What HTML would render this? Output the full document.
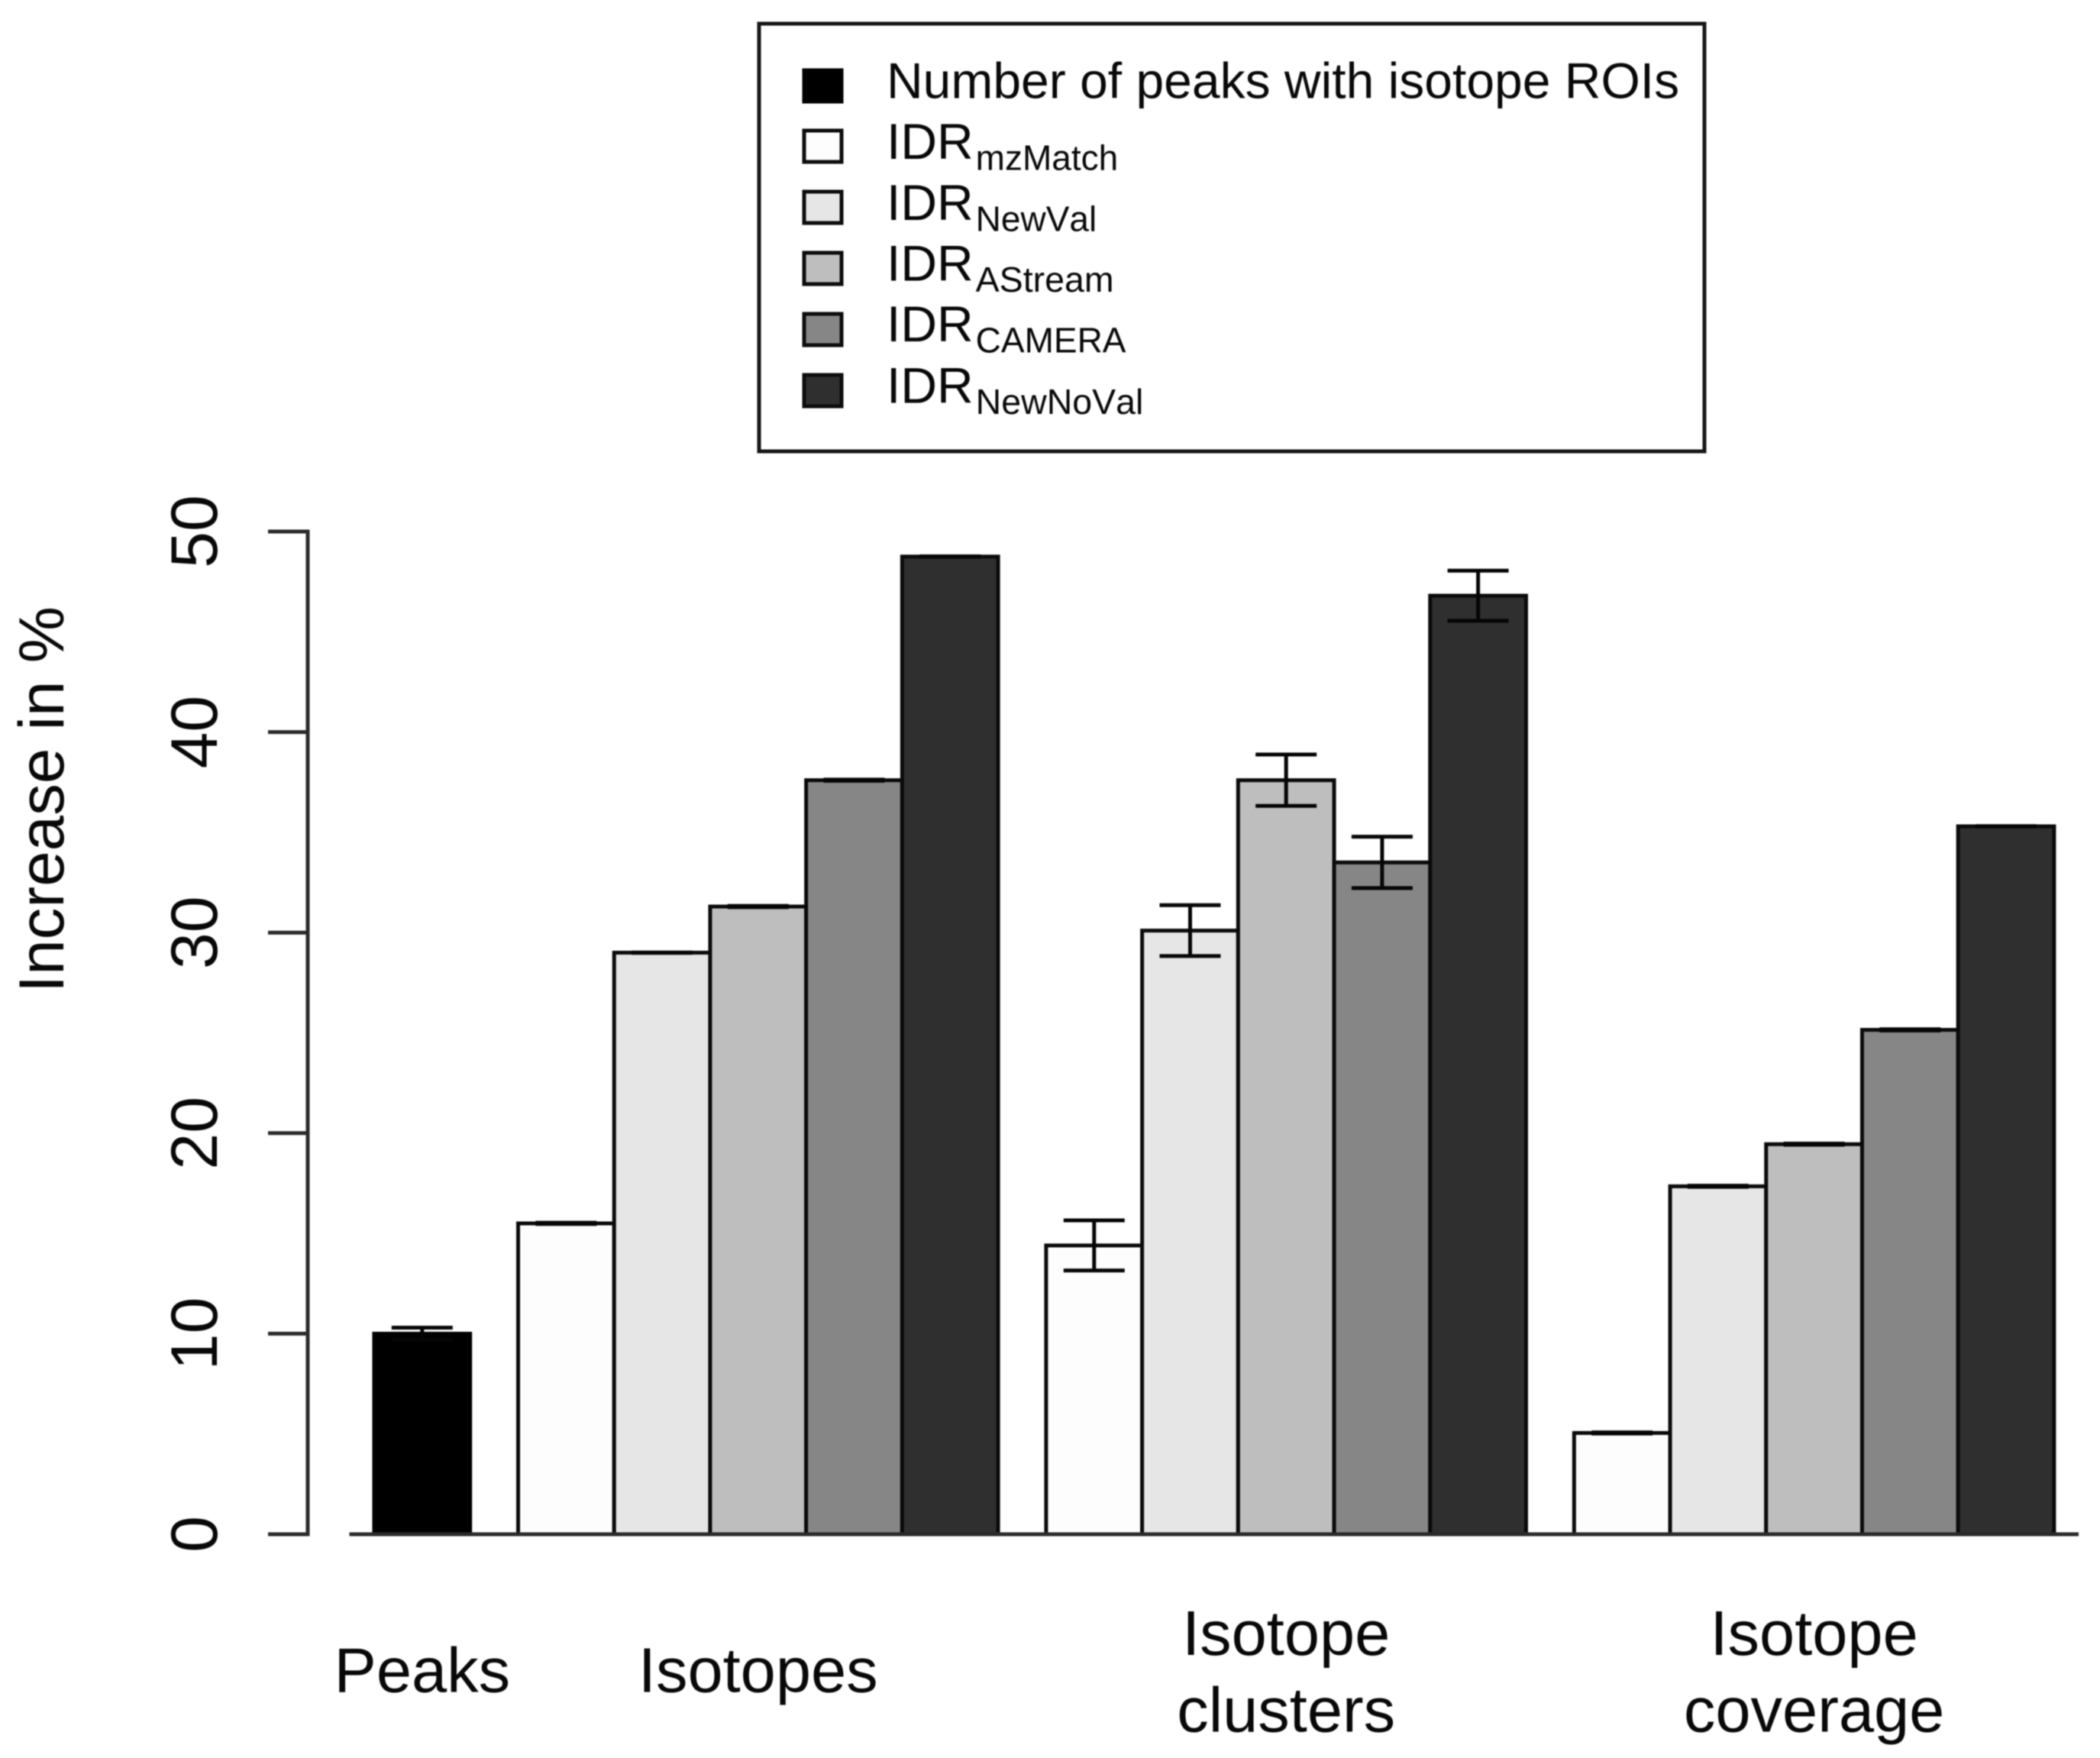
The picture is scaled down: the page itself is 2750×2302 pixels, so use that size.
<!DOCTYPE html>
<html lang="en">
<head>
<meta charset="utf-8">
<title>Increase in % by IDR method</title>
<style>
  html, body { margin: 0; padding: 0; background: #fff; }
  svg { display: block; filter: blur(0.7px); }
  text { font-family: "Liberation Sans", "DejaVu Sans", sans-serif; fill: #080808; font-kerning: none; }
</style>
</head>
<body>
<svg id="chart" xmlns="http://www.w3.org/2000/svg" width="2750" height="2302" viewBox="0 0 2750 2302">
  <rect x="0" y="0" width="2750" height="2302" fill="#ffffff"/>

  <g id="plot"></g>

  <text font-size="83.5" text-anchor="middle" transform="translate(83 1047) rotate(-90)">Increase in %</text>

  <g>
    <rect x="994" y="31" width="1238" height="560" fill="#ffffff" stroke="#161616" stroke-width="5"/>

    <g>
      <rect x="1053" y="92" width="49" height="41" fill="#000000" stroke="#000000" stroke-width="5"/>
      <text x="1161" y="128.5" font-size="66">Number of peaks with isotope ROIs</text>
    </g>
    <g>
      <rect x="1053" y="171" width="49" height="41" fill="#fdfdfd" stroke="#0c0c0c" stroke-width="5"/>
      <text x="1161" y="208" font-size="66">IDR<tspan font-size="46" dx="3" dy="14.5">mzMatch</tspan></text>
    </g>
    <g>
      <rect x="1053" y="251" width="49" height="41" fill="#e6e6e6" stroke="#0c0c0c" stroke-width="5"/>
      <text x="1161" y="288" font-size="66">IDR<tspan font-size="46" dx="3" dy="14.5">NewVal</tspan></text>
    </g>
    <g>
      <rect x="1053" y="331" width="49" height="41" fill="#bebebe" stroke="#0c0c0c" stroke-width="5"/>
      <text x="1161" y="367.5" font-size="66">IDR<tspan font-size="46.5" dx="3" dy="14.5">AStream</tspan></text>
    </g>
    <g>
      <rect x="1053" y="411" width="49" height="41" fill="#868686" stroke="#0c0c0c" stroke-width="5"/>
      <text x="1161" y="447" font-size="66">IDR<tspan font-size="46" dx="3" dy="14.5">CAMERA</tspan></text>
    </g>
    <g>
      <rect x="1053" y="491" width="49" height="41" fill="#2f2f2f" stroke="#0c0c0c" stroke-width="5"/>
      <text x="1161" y="527.5" font-size="66">IDR<tspan font-size="46.5" dx="3" dy="14.5">NewNoVal</tspan></text>
    </g>
  </g>
</svg>

<script>
// Chart data
const categories = [["Peaks"], ["Isotopes"], ["Isotope", "clusters"], ["Isotope", "coverage"]];
const seriesKeys = ["peaks", "mzmatch", "newval", "astream", "camera", "newnoval"];
const seriesFills = ["#000000", "#fdfdfd", "#e6e6e6", "#bebebe", "#868686", "#2f2f2f"];

const peaksValues    = [10.0, null, null, null];
const mzMatchValues  = [null, 15.5, 14.4, 5.05];
const newValValues   = [null, 29.0, 30.1, 17.35];
const aStreamValues  = [null, 31.3, 37.6, 19.45];
const cameraValues   = [null, 37.6, 33.5, 25.15];
const newNoValValues = [null, 48.75, 46.8, 35.3];

const peaksErrors    = [0.3, null, null, null];
const mzMatchErrors  = [null, 0.03, 1.25, 0.03];
const newValErrors   = [null, 0.01, 1.27, 0.03];
const aStreamErrors  = [null, 0.03, 1.28, 0.03];
const cameraErrors   = [null, 0.03, 1.28, 0.03];
const newNoValErrors = [null, 0.01, 1.25, 0.01];

const yTicks = [0, 10, 20, 30, 40, 50];

const seriesValues = [peaksValues, mzMatchValues, newValValues, aStreamValues, cameraValues, newNoValValues];
const seriesErrors = [peaksErrors, mzMatchErrors, newValErrors, aStreamErrors, cameraErrors, newNoValErrors];

// Axis functions
const SVG_NS = "http://www.w3.org/2000/svg";
const plot = document.getElementById("plot");

function yScale(v) { return 2009 - 26.26 * v; }
function xScale(u) { return 427.1 + 125.71 * u; }

function make(tag, attrs, parent) {
  const el = document.createElementNS(SVG_NS, tag);
  for (const k in attrs) el.setAttribute(k, attrs[k]);
  parent.appendChild(el);
  return el;
}

const AXIS_COLOR = "#2a2a2a";
const BAR_STROKE = "#0a0a0a";
const STROKE = 5;

// y axis
const yAxis = make("g", {}, plot);



const yLine = make("line", {
  x1: 403, x2: 403,
  y1: yScale(yTicks[0]), y2: yScale(yTicks[yTicks.length - 1]),
  stroke: AXIS_COLOR, "stroke-width": STROKE, "stroke-linecap": "square"
}, yAxis);



yTicks.forEach(function (t) {
  const tick = make("line", {
    x1: 351, x2: 403, y1: yScale(t), y2: yScale(t),
    stroke: AXIS_COLOR, "stroke-width": STROKE
  }, yAxis);
  
  

  const label = make("text", {
    "font-size": 86, "text-anchor": "middle",
    transform: "translate(284 " + yScale(t) + ") rotate(-90)"
  }, yAxis);
  label.textContent = String(t);
  
  
});

// Bars, grouped per category: a half-bar gap sits before every group
const barsGroup = make("g", {}, plot);



const errorGroup = make("g", {}, plot);



let cursor = 0;
const groupCenters = [];
categories.forEach(function (cat, ci) {
  cursor += 0.5;
  const groupStart = cursor;
  seriesKeys.forEach(function (key, si) {
    const v = seriesValues[si][ci];
    if (v === null) return;
    const u0 = cursor;
    cursor += 1;
    const bar = make("rect", {
      x: xScale(u0), y: yScale(v),
      width: xScale(u0 + 1) - xScale(u0),
      height: yScale(0) - yScale(v),
      fill: seriesFills[si],
      stroke: si === 0 ? "#000000" : BAR_STROKE,
      "stroke-width": STROKE
    }, barsGroup);
    
    

    const e = seriesErrors[si][ci];
    const cx = xScale(u0 + 0.5);
    const err = make("path", {
      d: "M" + (cx - 40) + " " + yScale(v + e) + "H" + (cx + 40) +
         "M" + cx + " " + yScale(v + e) + "V" + yScale(v - e) +
         "M" + (cx - 40) + " " + yScale(v - e) + "H" + (cx + 40),
      fill: "none", stroke: "#050505", "stroke-width": STROKE
    }, errorGroup);
    
    
  });
  groupCenters.push((xScale(groupStart) + xScale(cursor)) / 2);
});

// Baseline
const baseline = make("line", {
  x1: 457.5, x2: 2722, y1: yScale(0), y2: yScale(0),
  stroke: AXIS_COLOR, "stroke-width": STROKE
}, plot);



// Category labels
categories.forEach(function (cat, ci) {
  const firstBaseline = cat.length === 1 ? 2215.5 : 2167;
  cat.forEach(function (line, li) {
    const label = make("text", {
      x: groupCenters[ci], y: firstBaseline + li * 100.5,
      "font-size": 83, "text-anchor": "middle"
    }, plot);
    label.textContent = line;
    
    
  });
});
</script>
</body>
</html>
